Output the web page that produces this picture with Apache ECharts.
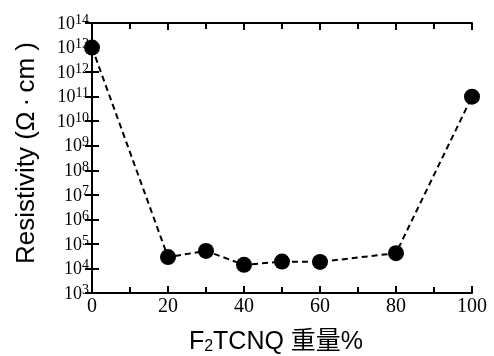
<!DOCTYPE html>
<html><head><meta charset="utf-8">
<script src="https://cdn.jsdelivr.net/npm/echarts@6/dist/echarts.min.js"></script>
<style>html,body{margin:0;padding:0;background:#fff}#c{width:494px;height:356px}</style>
</head><body><div id="c"></div>
<script>
const xValues = [0, 20, 30, 40, 50, 60, 80, 100];
const resistivity = [1e13, 2.9e4, 5.2e4, 1.4e4, 1.9e4, 1.85e4, 4.2e4, 1e11];
const xTicks = [0, 20, 40, 60, 80, 100];
const yExpMin = 3, yExpMax = 14;

const chart = echarts.init(document.getElementById('c'));
const serif = '"Liberation Serif", "DejaVu Serif", serif';
const sans = '"Liberation Sans", Arial, "Noto Sans CJK JP", sans-serif';
const axisLine = {show: true, lineStyle: {color: '#000', width: 2}};
const tick = {inside: true, length: 7, lineStyle: {width: 2, color: '#000'}};
const minor = {show: true, splitNumber: 2, length: 6, lineStyle: {width: 2, color: '#000'}};
chart.setOption({
  animation: false,
  grid: {left: 92, right: 22, top: 23, bottom: 63, containLabel: false, outerBoundsMode: 'none'},
  xAxis: [{
    type: 'value', min: 0, max: 100, interval: 20, position: 'bottom',
    axisLine, axisTick: tick, minorTick: minor, splitLine: {show: false},
    axisLabel: {fontFamily: serif, fontSize: 20, color: '#000', margin: 4,
      formatter: v => xTicks.includes(v) ? String(v) : ''},
    name: '{a|F}{sub|2}{a|TCNQ 重量%}', nameLocation: 'middle', nameGap: 32,
    nameTextStyle: {padding: [0, 12, 0, 0], rich: {
      a: {fontFamily: sans, fontSize: 25, color: '#000', verticalAlign: 'bottom', lineHeight: 30},
      sub: {fontFamily: sans, fontSize: 16, color: '#000', verticalAlign: 'bottom', lineHeight: 14}
    }}
  }, {
    type: 'value', min: 0, max: 100, interval: 20, position: 'top',
    axisLine, axisTick: tick, minorTick: minor, splitLine: {show: false}, axisLabel: {show: false}
  }],
  yAxis: [{
    type: 'log', logBase: 10, min: Math.pow(10, yExpMin), max: Math.pow(10, yExpMax), interval: 1,
    position: 'left', axisLine, axisTick: tick, splitLine: {show: false},
    axisLabel: {margin: 3, formatter: v => '{b|10}{s|' + Math.round(Math.log10(v)) + '}',
      rich: {
        b: {fontFamily: serif, fontSize: 18, color: '#000', verticalAlign: 'bottom', lineHeight: 20},
        s: {fontFamily: serif, fontSize: 14, color: '#000', verticalAlign: 'top', lineHeight: 12}
      }},
    name: 'Resistivity (Ω\u2009·\u2009cm )', nameLocation: 'middle', nameGap: 52, nameRotate: 90,
    nameTextStyle: {fontFamily: sans, fontSize: 26, color: '#000', padding: [0, 0, 0, 10]}
  }, {
    type: 'log', logBase: 10, min: Math.pow(10, yExpMin), max: Math.pow(10, yExpMax), interval: 1,
    position: 'right', axisLine, axisTick: tick, splitLine: {show: false}, axisLabel: {show: false}
  }],
  series: [{
    type: 'line', xAxisIndex: 0, yAxisIndex: 0,
    data: xValues.map((x, i) => [x, resistivity[i]]),
    symbol: 'circle', symbolSize: 16,
    itemStyle: {color: '#000'},
    lineStyle: {color: '#000', width: 2, type: [6, 4]}
  }]
});
</script></body></html>
